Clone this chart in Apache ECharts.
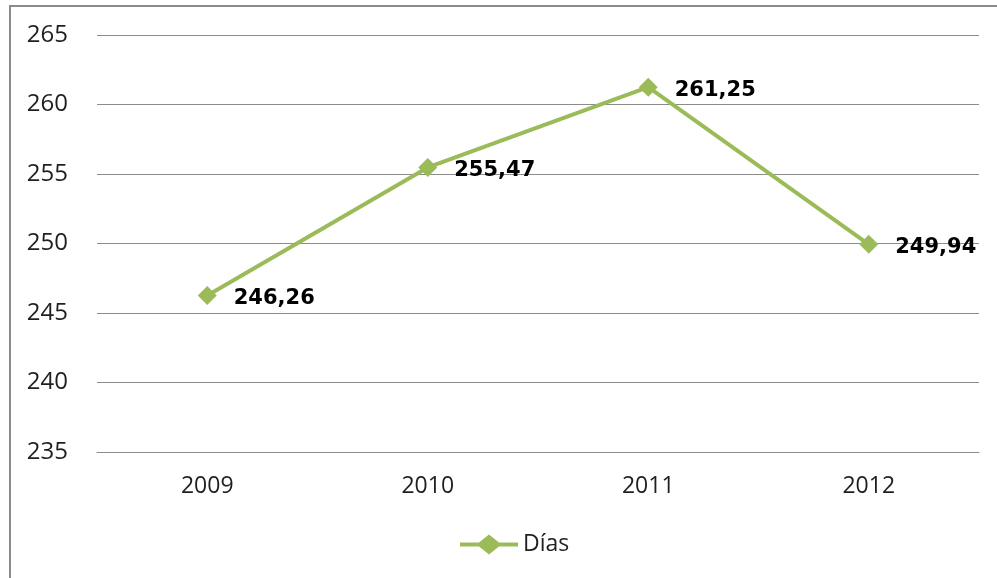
<!DOCTYPE html>
<html>
<head>
<meta charset="utf-8">
<script src="https://cdn.jsdelivr.net/npm/echarts@6/dist/echarts.min.js"></script>
<style>
html,body{margin:0;padding:0;background:#fff;overflow:hidden;}
#frame{position:absolute;left:9px;top:5px;width:1000px;height:600px;border-left:2px solid #8c8c8c;border-top:2px solid #8c8c8c;}
#main{position:absolute;left:0;top:0;width:997px;height:578px;}
</style>
</head>
<body>
<div id="frame"></div>
<div id="main"></div>
<script>
var years=['2009','2010','2011','2012'];
var dias=[246.26,255.47,261.25,249.94];
var seriesName='Días';

var chart=echarts.init(document.getElementById('main'));
var txt='#1f1f1f';
chart.setOption({
	animation:false,
	textStyle:{fontFamily:'Open Sans'},
	grid:{left:97,right:18,top:35,bottom:126},
	legend:{
		bottom:17,
		left:455,
		itemWidth:58,
		itemHeight:20,
		itemGap:4,
		textStyle:{fontSize:23,color:txt,fontFamily:'Open Sans'},
		data:[{name:seriesName,icon:'path://M0,8 L19,8 L29,0 L39,8 L58,8 L58,12 L39,12 L29,20 L19,12 L0,12 Z'}]
	},
	xAxis:{
		type:'category',
		data:years,
		boundaryGap:true,
		axisLine:{lineStyle:{color:'#8c8c8c',width:1}},
		axisTick:{show:false},
		axisLabel:{fontSize:23,color:txt,margin:23}
	},
	yAxis:{
		type:'value',
		min:235,max:265,interval:5,
		axisLine:{show:false},
		axisTick:{show:false},
		splitLine:{lineStyle:{color:'#8c8c8c',width:1}},
		axisLabel:{fontSize:24,color:txt,margin:29}
	},
	series:[{
		name:seriesName,
		type:'line',
		data:dias,
		color:'#9bbb59',
		lineStyle:{width:4,color:'#9bbb59'},
		symbol:'diamond',
		symbolSize:19,
		itemStyle:{color:'#9bbb59'},
		label:{
			show:true,
			position:'right',
			distance:17,
			offset:[0,3],
			fontSize:21,
			fontWeight:'bold',
			color:'#000',
			fontFamily:'DejaVu Sans',
			formatter:function(p){return p.value.toFixed(2).replace('.',',');}
		}
	}]
});
</script>
</body>
</html>
